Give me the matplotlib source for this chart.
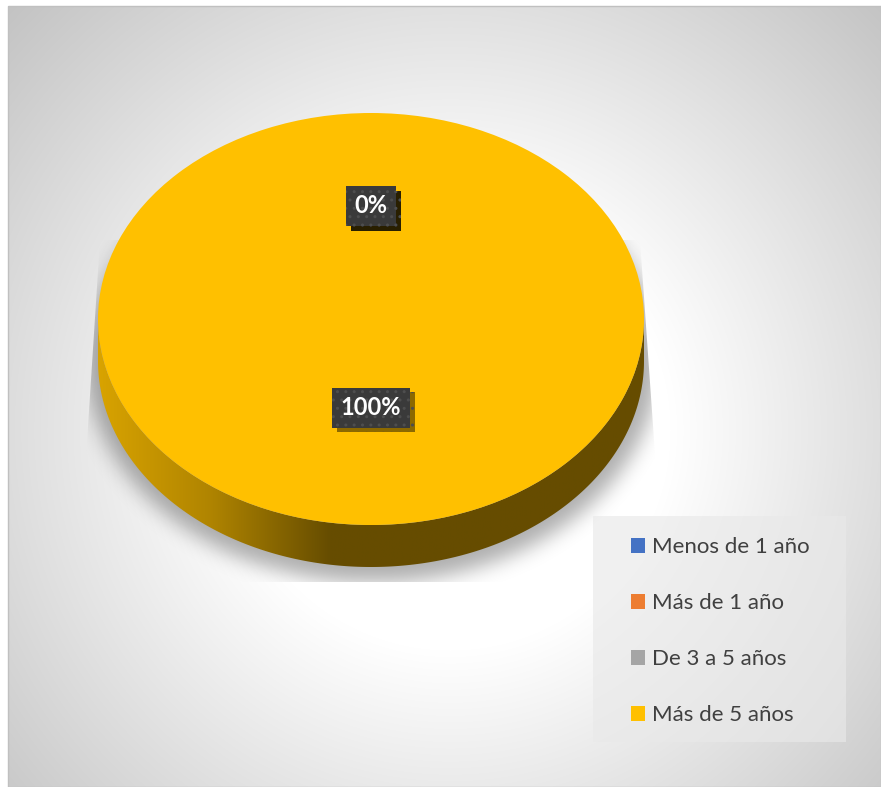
import numpy as np
import matplotlib
matplotlib.use("Agg")
import matplotlib.pyplot as plt
import matplotlib.patheffects as pe
from matplotlib.colors import to_rgb
from matplotlib.patches import Polygon, Rectangle

plt.rcParams["font.family"] = ["Lato", "DejaVu Sans"]

categories = ["Menos de 1 año", "Más de 1 año", "De 3 a 5 años", "Más de 5 años"]
percentages = [0, 0, 0, 100]
slice_colors = ["#4472C4", "#ED7D31", "#A5A5A5", "#FFC000"]

W, H = 881, 787
fig = plt.figure(figsize=(W / 100, H / 100), dpi=100)

# background: soft radial grey gradient inside the chart frame
bg = fig.add_axes([0, 0, 1, 1])
yy, xx = np.mgrid[0:H, 0:W]
dist = np.hypot(xx - 450, yy - 430)
v = np.clip(1.0 - 0.0006 * np.clip(dist - 220, 0, None), 0, 1)
rgb = np.dstack([v, v, v])
rgb[(xx < 8) | (yy < 6)] = 1.0
bg.imshow(rgb, extent=(0, W, 0, H), origin="upper", aspect="auto", zorder=0)
bg.add_patch(Rectangle((8, 0), W - 8, H - 6, fill=False, edgecolor="#c0c0c0", lw=1, zorder=1))


def blur(a, sigma):
    k = np.arange(-3 * sigma, 3 * sigma + 1)
    g = np.exp(-k ** 2 / (2.0 * sigma ** 2))
    g /= g.sum()
    a = np.apply_along_axis(lambda m: np.convolve(m, g, mode="same"), 0, a)
    a = np.apply_along_axis(lambda m: np.convolve(m, g, mode="same"), 1, a)
    return a


# drop shadow under the pie, clipped to the plot area
mask = (((xx - 372) / 286.0) ** 2 + ((yy - 360) / 222.0) ** 2 <= 1).astype(float)
shadow = np.zeros((H, W, 4))
shadow[..., 3] = 0.32 * blur(mask, 10)
sh_im = bg.imshow(shadow, extent=(0, W, 0, H), origin="upper", aspect="auto", zorder=1)
clip = Polygon([(100, H - 240), (640, H - 240), (664, H - 582), (78, H - 582)],
               closed=True, transform=bg.transData)
sh_im.set_clip_path(clip)
bg.set_xlim(0, W)
bg.set_ylim(0, H)
bg.axis("off")

# pie axes: y stretched so the circle is drawn as a flat ellipse
RX, RY, DEPTH = 273, 206, 42
CX, CY = 371, H - 319
S = RX / RY
ax = fig.add_axes([0, 0, 1, 1])
ax.patch.set_alpha(0)
wedges, _ = ax.pie(percentages, colors=slice_colors, startangle=90, counterclock=False,
                   center=(CX, CY * S), radius=RX, wedgeprops=dict(linewidth=0))
for w in wedges:
    w.set_zorder(2)

# side walls, shaded light on the left to dark on the right
shade_x = [98, 210, 330, W]
shade_f = [0.85, 0.69, 0.40, 0.40]
for w, col in zip(wedges, slice_colors):
    if w.theta2 - w.theta1 <= 0:
        continue
    t = np.linspace(w.theta1, w.theta2, 720)
    idx = np.flatnonzero(np.sin(np.radians(t)) <= 0)
    if idx.size == 0:
        continue
    for run in np.split(idx, np.flatnonzero(np.diff(idx) > 1) + 1):
        th = np.radians(t[run])
        xs = CX + RX * np.cos(th)
        ys = CY * S + RX * np.sin(th)
        top = np.column_stack([xs, ys])
        bot = np.column_stack([xs[::-1], ys[::-1] - DEPTH * S])
        poly = Polygon(np.vstack([top, bot]), closed=True, facecolor="none",
                       edgecolor="none")
        ax.add_patch(poly)
        gx = np.linspace(CX - RX, CX + RX, 600)
        f = np.interp(gx, shade_x, shade_f)
        grad = np.array(to_rgb(col))[None, None, :] * f[None, :, None]
        im = ax.imshow(grad, extent=(CX - RX, CX + RX, CY * S - RX - DEPTH * S, CY * S),
                       aspect="auto", zorder=1.5)
        im.set_clip_path(poly)

# data labels
label_r = [0.55, 0.55, 0.55, 0.43]
for w, pct, rr in zip(wedges, percentages, label_r):
    mid = np.radians((w.theta1 + w.theta2) / 2)
    lx = CX + rr * RX * np.cos(mid)
    ly = CY * S + rr * RX * np.sin(mid)
    txt = ax.text(lx, ly, f"{pct:.0f}%", ha="center", va="center", color="white",
                  fontsize=17, fontweight="bold", zorder=5,
                  bbox=dict(boxstyle="square,pad=0.36", facecolor="#3a3a3a",
                            edgecolor="#4e4e4e", hatch="..", linewidth=0))
    txt.get_bbox_patch().set_path_effects(
        [pe.withSimplePatchShadow(offset=(3.5, -3.5), shadow_rgbFace="black", alpha=0.45),
         pe.Normal()])

ax.set_aspect("auto")
ax.set_xlim(0, W)
ax.set_ylim(0, H * S)
ax.axis("off")

# legend box
bg.add_patch(Rectangle((593, H - 742), 253, 226, facecolor="#e9e9e9", alpha=0.65,
                       edgecolor="none", zorder=3))
fig.legend(wedges, categories, loc="upper left", bbox_to_anchor=(631 / W, (H - 537) / H),
           frameon=False, fontsize=16, labelcolor="#404040", handlelength=0.64,
           handleheight=0.64, handletextpad=0.3, labelspacing=1.62, borderaxespad=0,
           borderpad=0)

fig.savefig("out.png", dpi=100)
